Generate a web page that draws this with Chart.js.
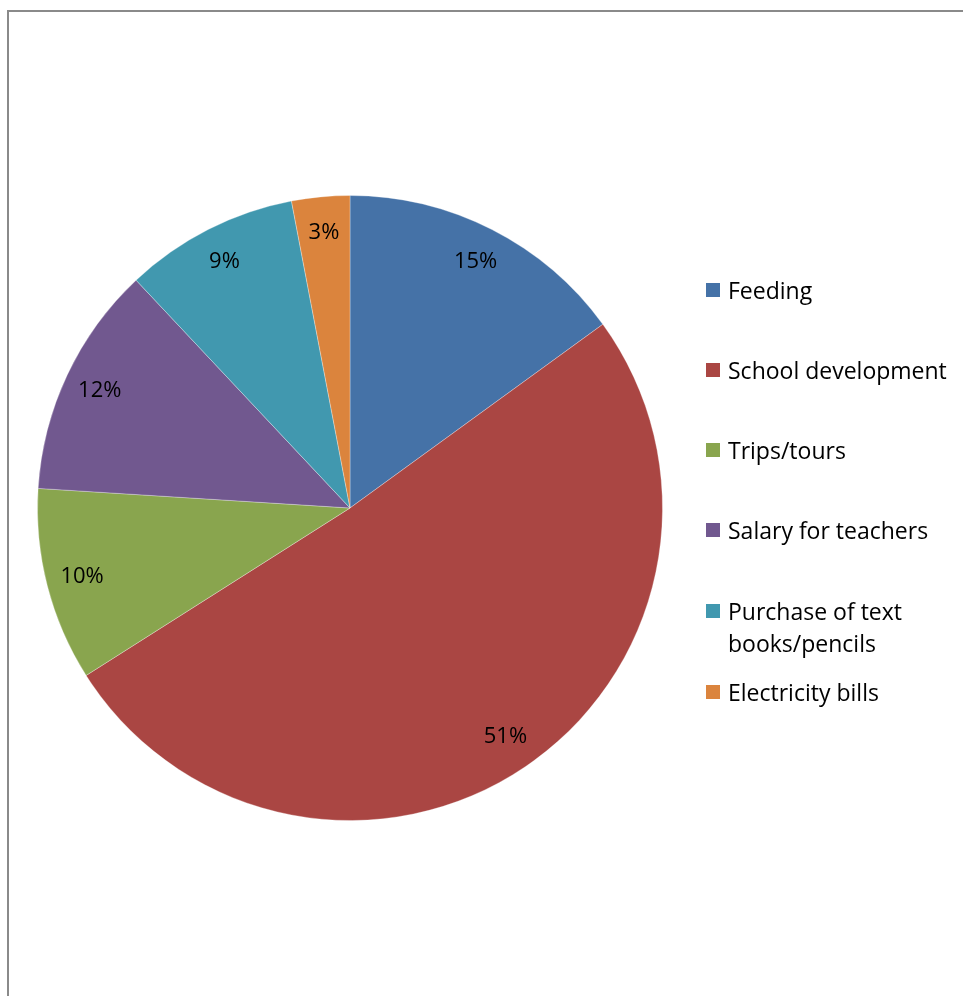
<!DOCTYPE html>
<html>
<head>
<meta charset="utf-8">
<title>Use of school funds</title>
<script src="https://cdn.jsdelivr.net/npm/chart.js@4.4.1/dist/chart.umd.min.js"></script>
<style>
  html, body { margin: 0; padding: 0; background: #fff; }
  body { width: 963px; height: 996px; position: relative; overflow: hidden; font-family: "Open Sans", sans-serif; }
  #frame { position: absolute; left: 7px; top: 10px; width: 1000px; height: 1000px;
           border-left: 2px solid #8a8a8a; border-top: 2px solid #8a8a8a; }
  #wrap { position: absolute; left: 0; top: 0; width: 963px; height: 996px; }
  #legend { position: absolute; left: 706px; top: 0; list-style: none; margin: 0; padding: 0;
            font-size: 23px; color: #000; }
  #legend li { position: absolute; left: 0; width: 257px; line-height: 32px; padding-left: 22px; white-space: nowrap; }
  #legend li span { position: absolute; left: 0; top: 9px; width: 14px; height: 14px; }
</style>
</head>
<body>
<div id="frame"></div>
<div id="wrap"><canvas id="pieChart" width="963" height="996"></canvas></div>
<ul id="legend"></ul>
<script>
// spending categories and their share of the budget (%)
const categories = ['Feeding', 'School development', 'Trips/tours', 'Salary for teachers', 'Purchase of text books/pencils', 'Electricity bills'];
const legendLines = [['Feeding'], ['School development'], ['Trips/tours'], ['Salary for teachers'], ['Purchase of text', 'books/pencils'], ['Electricity bills']];
const shares = [15, 51, 10, 12, 9, 3];
const colors = ['#4572A7', '#AA4643', '#89A54E', '#71588F', '#4198AF', '#DB843D'];

// percent labels drawn near the outer edge of each slice
const sliceLabels = {
    id: 'sliceLabels',
    afterDatasetsDraw(chart) {
        const ctx = chart.ctx;
        const meta = chart.getDatasetMeta(0);
        const data = chart.data.datasets[0].data;
        ctx.save();
        ctx.font = '22px "Open Sans", sans-serif';
        ctx.fillStyle = '#000';
        ctx.textAlign = 'center';
        ctx.textBaseline = 'middle';
        meta.data.forEach((arc, i) => {
            const p = arc.getProps(['x', 'y', 'startAngle', 'endAngle', 'outerRadius'], true);
            const mid = (p.startAngle + p.endAngle) / 2;
            const r = p.outerRadius * 0.885;
            ctx.fillText(data[i] + '%', p.x + Math.cos(mid) * r, p.y + Math.sin(mid) * r);
        });
        ctx.restore();
    }
};

const ctx = document.getElementById('pieChart').getContext('2d');
window.pieChart = new Chart(ctx, {
    type: 'pie',
    data: {
        labels: categories,
        datasets: [{
            data: shares,
            backgroundColor: colors,
            borderColor: 'rgba(255,255,255,0.3)',
            borderWidth: 1
        }]
    },
    options: {
        responsive: false,
        animation: false,
        layout: { padding: { left: 37, right: 300, top: 195, bottom: 175 } },
        plugins: {
            legend: { display: false },
            tooltip: { enabled: false }
        }
    },
    plugins: [sliceLabels]
});

// legend on the right, one entry per category
const legend = document.getElementById('legend');
const rowTops = [274, 354, 434, 514, 595, 676];
categories.forEach((name, i) => {
    const li = document.createElement('li');
    li.style.top = rowTops[i] + 'px';
    const box = document.createElement('span');
    box.style.background = colors[i];
    li.appendChild(box);
    li.appendChild(document.createTextNode(legendLines[i][0]));
    for (let k = 1; k < legendLines[i].length; k++) {
        li.appendChild(document.createElement('br'));
        li.appendChild(document.createTextNode(legendLines[i][k]));
    }
    legend.appendChild(li);
});
</script>
</body>
</html>
